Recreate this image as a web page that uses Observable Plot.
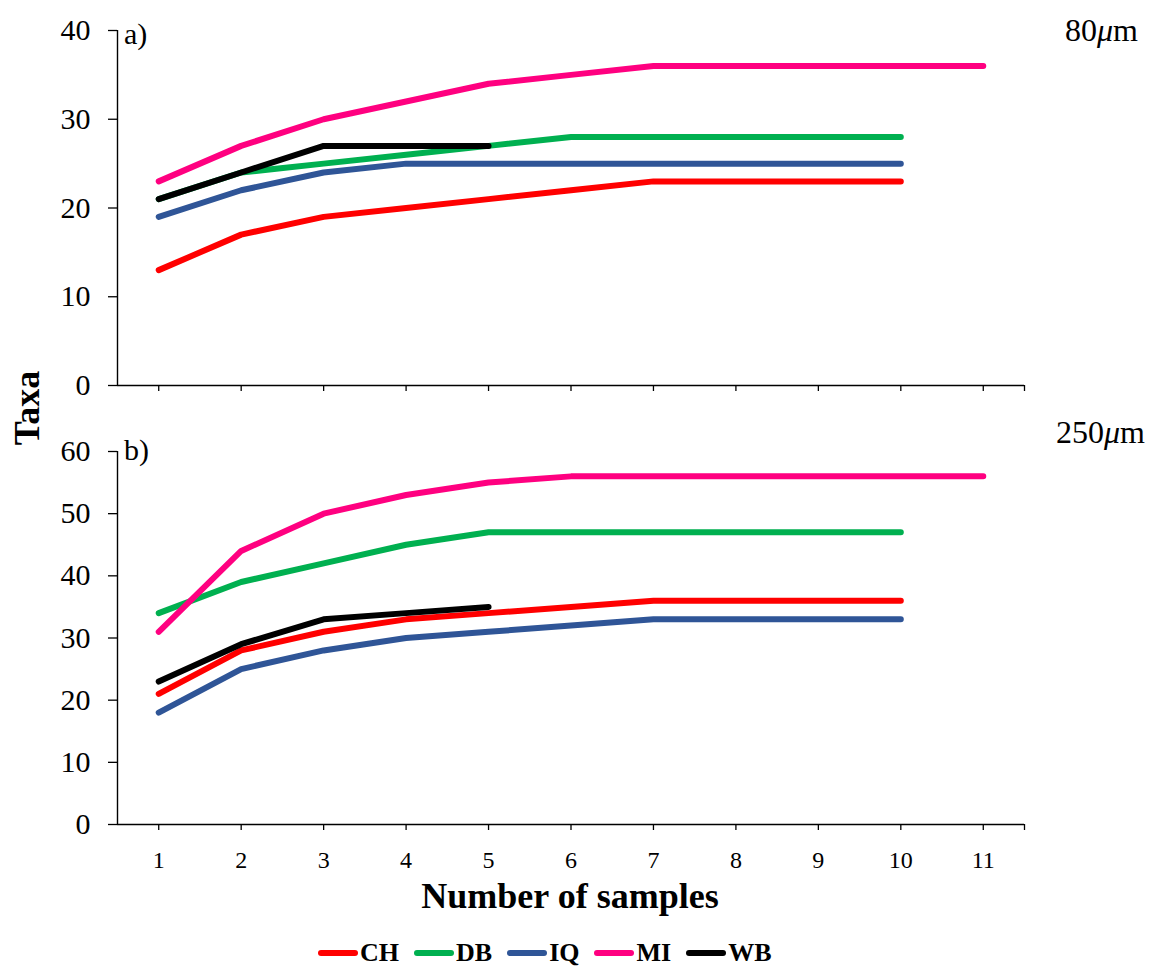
<!DOCTYPE html>
<html>
<head>
<meta charset="utf-8">
<script src="https://cdn.jsdelivr.net/npm/d3@7"></script>
<script src="https://cdn.jsdelivr.net/npm/@observablehq/plot@0.6"></script>
<style>
  html, body { margin: 0; padding: 0; background: #fff; }
  #wrap { position: relative; width: 1157px; height: 969px; font-family: "Liberation Serif", "Times New Roman", serif; color: #000; }
  #wrap svg { display: block; position: absolute; left: 0; }
  .lbl { position: absolute; white-space: nowrap; line-height: 1; }
  #legend { position: absolute; top: 940px; left: 318px; display: flex; gap: 15px; font-weight: bold; font-size: 26px; line-height: 1; }
  #legend .item { display: flex; align-items: center; }
  #legend .sw { display: inline-block; width: 40px; height: 6px; border-radius: 3px; margin-right: 2px; }
</style>
</head>
<body>
<div id="wrap"></div>
<script>
// ---- data ----
const samples = [1, 2, 3, 4, 5, 6, 7, 8, 9, 10, 11];
const seriesNames = ["CH", "DB", "IQ", "MI", "WB"];
const seriesColors = ["#ff0000", "#00b050", "#2f5597", "#ff0080", "#000000"];

// panel a) 80 µm
const a_CH = [13, 17, 19, 20, 21, 22, 23, 23, 23, 23];
const a_DB = [21, 24, 25, 26, 27, 28, 28, 28, 28, 28];
const a_IQ = [19, 22, 24, 25, 25, 25, 25, 25, 25, 25];
const a_MI = [23, 27, 30, 32, 34, 35, 36, 36, 36, 36, 36];
const a_WB = [21, 24, 27, 27, 27];

// panel b) 250 µm
const b_CH = [21, 28, 31, 33, 34, 35, 36, 36, 36, 36];
const b_DB = [34, 39, 42, 45, 47, 47, 47, 47, 47, 47];
const b_IQ = [18, 25, 28, 30, 31, 32, 33, 33, 33, 33];
const b_MI = [31, 44, 50, 53, 55, 56, 56, 56, 56, 56, 56];
const b_WB = [23, 29, 33, 34, 35];

const yTicksA = [0, 10, 20, 30, 40];
const yTicksB = [0, 10, 20, 30, 40, 50, 60];

function rows(list) {
  const out = [];
  list.forEach((vals, i) => vals.forEach((v, j) => out.push({series: seriesNames[i], n: samples[j], taxa: v})));
  return out;
}
const dataA = rows([a_CH, a_DB, a_IQ, a_MI, a_WB]);
const dataB = rows([b_CH, b_DB, b_IQ, b_MI, b_WB]);

const FONT = '"Liberation Serif", "Times New Roman", serif';

function panel(data, yMax, yTicks, height, marginTop, marginBottom, showXLabels) {
  return Plot.plot({
    width: 1157,
    height,
    marginLeft: 117,
    marginRight: 133,
    marginTop,
    marginBottom,
    style: {fontFamily: FONT, color: "#000", background: "transparent", overflow: "visible"},
    x: {domain: [0.5, 11.5]},
    y: {domain: [0, yMax]},
    color: {domain: seriesNames, range: seriesColors},
    marks: [
      Plot.axisY({ticks: yTicks, tickSize: 9, tickPadding: 18, fontSize: 30, label: null, stroke: "#000", strokeWidth: 1.3}),
      Plot.axisX({ticks: [...samples, 11.5], tickSize: 6, tickPadding: 20, fontSize: 24, label: null,
        tickFormat: d => (showXLabels && Number.isInteger(d)) ? String(d) : "", stroke: "#000", strokeWidth: 1.3}),
      Plot.ruleX([0.5], {y1: 0, y2: yMax, stroke: "#000", strokeWidth: 1.4}),
      Plot.ruleY([0], {x1: 0.5, x2: 11.5, stroke: "#000", strokeWidth: 1.4}),
      Plot.line(data, {x: "n", y: "taxa", z: "series", stroke: "series",
        strokeWidth: 6, strokeLinecap: "round", strokeLinejoin: "round"})
    ]
  });
}

const wrap = document.getElementById("wrap");
const svgA = panel(dataA, 40, yTicksA, 420, 30, 35, false);
svgA.style.top = "0px";
wrap.appendChild(svgA);
const svgB = panel(dataB, 60, yTicksB, 874 - 420, 31, 50, true);
svgB.style.top = "420px";
wrap.appendChild(svgB);

function label(html, left, top, extra) {
  const d = document.createElement("div");
  d.className = "lbl";
  d.innerHTML = html;
  d.style.left = left + "px";
  d.style.top = top + "px";
  Object.assign(d.style, extra || {});
  wrap.appendChild(d);
  return d;
}
label("a)", 124, 19, {fontSize: "30px"});
label("b)", 124, 435, {fontSize: "30px"});
label("80<i>μ</i>m", 1065, 14, {fontSize: "32px"});
label("250<i>μ</i>m", 1056, 416, {fontSize: "32px"});
label("Number of samples", 370, 878, {fontSize: "36px", fontWeight: "bold", width: "400px", textAlign: "center"});
label("Taxa", 27, 408, {fontSize: "36px", fontWeight: "bold", transform: "translate(-50%, -50%) rotate(-90deg)"});

const legend = document.createElement("div");
legend.id = "legend";
seriesNames.forEach((s, i) => {
  const it = document.createElement("div");
  it.className = "item";
  const sw = document.createElement("span");
  sw.className = "sw";
  sw.style.background = seriesColors[i];
  const t = document.createElement("span");
  t.textContent = s;
  it.appendChild(sw);
  it.appendChild(t);
  legend.appendChild(it);
});
wrap.appendChild(legend);
</script>
</body>
</html>
